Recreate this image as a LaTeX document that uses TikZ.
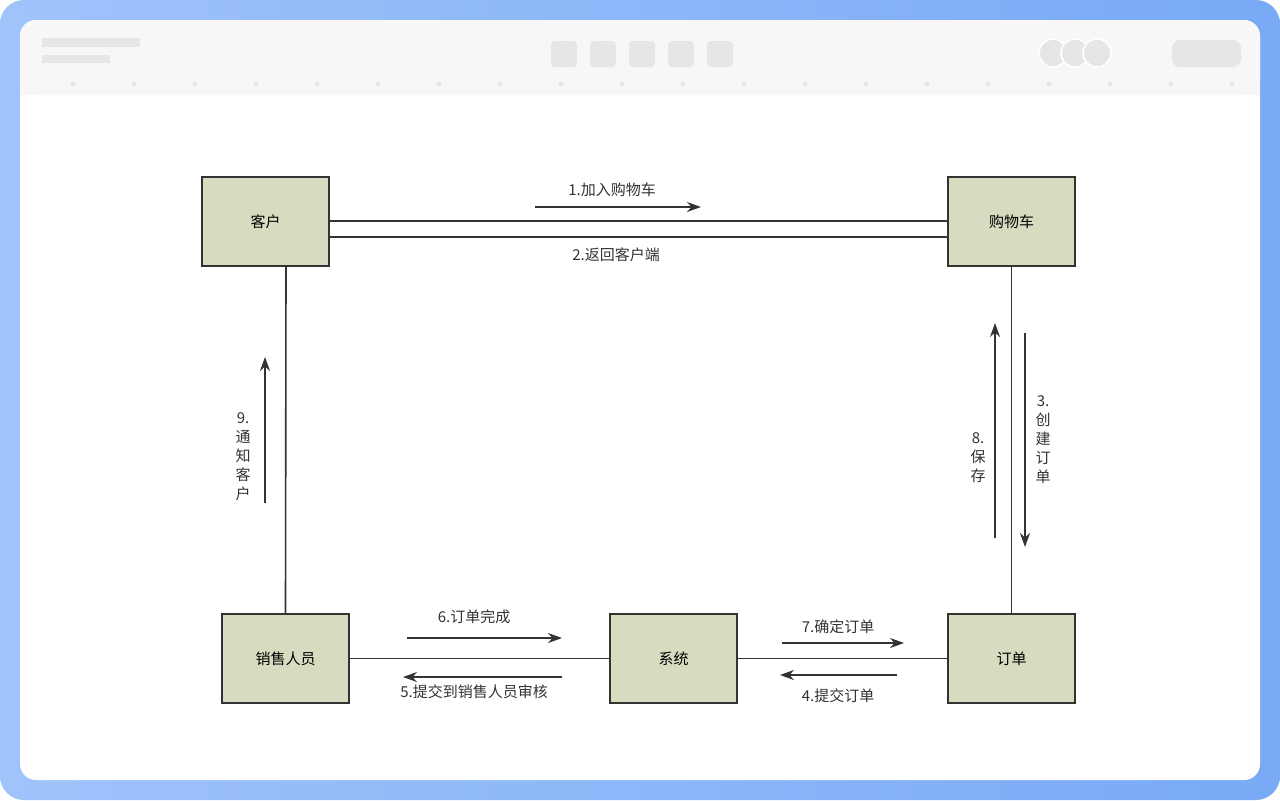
\documentclass[tikz,border=0pt]{standalone}
\usepackage{fontspec}
\setmainfont{Noto Sans CJK SC}
\usetikzlibrary{arrows.meta}
\definecolor{boxfill}{RGB}{215,220,192}
\definecolor{boxline}{RGB}{51,51,51}
\definecolor{bgleft}{RGB}{160,195,250}
\definecolor{bgright}{RGB}{120,170,246}
\definecolor{barfill}{RGB}{247,247,247}
\definecolor{ph}{RGB}{230,230,230}
\tikzset{
  entity/.style={draw=boxline, fill=boxfill, line width=0.8pt, minimum width=63.5pt, minimum height=44.5pt, font=\fontsize{7.5}{9}\selectfont},
  link/.style={draw=boxline, line width=0.8pt},
  msg/.style={draw=boxline, line width=0.8pt, -{Stealth[length=7pt, width=5pt]}},
  lbl/.style={font=\fontsize{7.5}{9}\selectfont, text=boxline, inner sep=1pt},
  vlbl/.style={lbl, align=center, font=\fontsize{7.5}{9.5}\selectfont}
}
\begin{document}
\begin{tikzpicture}[x=0.5pt, y=-0.5pt]
  \useasboundingbox (0,0) rectangle (1280,800);
  % frame
  \shade[left color=bgleft, right color=bgright, rounded corners=12pt] (0,0) rectangle (1280,800);
  \fill[white, rounded corners=8pt] (20,20) rectangle (1260,780);
  \fill[barfill, rounded corners=8pt] (20,20) rectangle (1260,95);
  \fill[barfill] (20,60) rectangle (1260,95);
  \fill[ph] (42,38) rectangle (140,47);
  \fill[ph] (42,55) rectangle (110,63);
  \foreach \x in {551,590,629,668,707}
    \fill[ph, rounded corners=2pt] (\x,41) rectangle +(26,26);
  \foreach \x in {1053,1075,1097}
    \fill[ph, draw=white, line width=0.8pt] (\x,53) circle (14);
  \fill[ph, rounded corners=4pt] (1172,40) rectangle (1241,67);
  \foreach \x in {73,134,195,256,317,378,439,500,561,622,683,744,805,866,927,988,1049,1110,1171,1232}
    \fill[ph] (\x,84) circle (2.5);

  % entities
  \node[entity] (kehu) at (265.5,221.5) {客户};
  \node[entity] (gwc) at (1011.5,221.5) {购物车};
  \node[entity] (xsry) at (285.5,658.5) {销售人员};
  \node[entity] (xt) at (673.5,658.5) {系统};
  \node[entity] (dd) at (1011.5,658.5) {订单};

  % connectors
  \draw[link] (kehu.east |- 0,221) -- (gwc.west |- 0,221);
  \draw[link] (kehu.east |- 0,237) -- (gwc.west |- 0,237);
  \draw[link] (kehu.south -| 286,0) -- (xsry.north);
  \draw[link] (gwc.south) -- (dd.north);
  \draw[link] (xsry) -- (xt);
  \draw[link] (xt) -- (dd);

  % messages
  \coordinate (m1a) at (535,207); \coordinate (m1b) at (701,207);
  \draw[msg] (m1a) -- (m1b);
  \node[lbl] (t1) at (612,190) {1.加入购物车};
  \node[lbl] (t2) at (616,255) {2.返回客户端};
  \coordinate (m3a) at (1025,333); \coordinate (m3b) at (1025,547);
  \draw[msg] (m3a) -- (m3b);
  \node[vlbl] (t3) at (1043,440) {3.\\创\\建\\订\\单};
  \coordinate (m8a) at (995,538); \coordinate (m8b) at (995,323);
  \draw[msg] (m8a) -- (m8b);
  \node[vlbl] (t8) at (978,458) {8.\\保\\存};
  \coordinate (m9a) at (265,503); \coordinate (m9b) at (265,357);
  \draw[msg] (m9a) -- (m9b);
  \node[vlbl] (t9) at (243,457) {9.\\通\\知\\客\\户};
  \coordinate (m6a) at (407,638); \coordinate (m6b) at (562,638);
  \draw[msg] (m6a) -- (m6b);
  \node[lbl] (t6) at (474,617) {6.订单完成};
  \coordinate (m5a) at (562,677); \coordinate (m5b) at (403,677);
  \draw[msg] (m5a) -- (m5b);
  \node[lbl] (t5) at (474,692) {5.提交到销售人员审核};
  \coordinate (m7a) at (782,643); \coordinate (m7b) at (904,643);
  \draw[msg] (m7a) -- (m7b);
  \node[lbl] (t7) at (838,627) {7.确定订单};
  \coordinate (m4a) at (897,675); \coordinate (m4b) at (780,675);
  \draw[msg] (m4a) -- (m4b);
  \node[lbl] (t4) at (838,696) {4.提交订单};
\end{tikzpicture}
\end{document}
